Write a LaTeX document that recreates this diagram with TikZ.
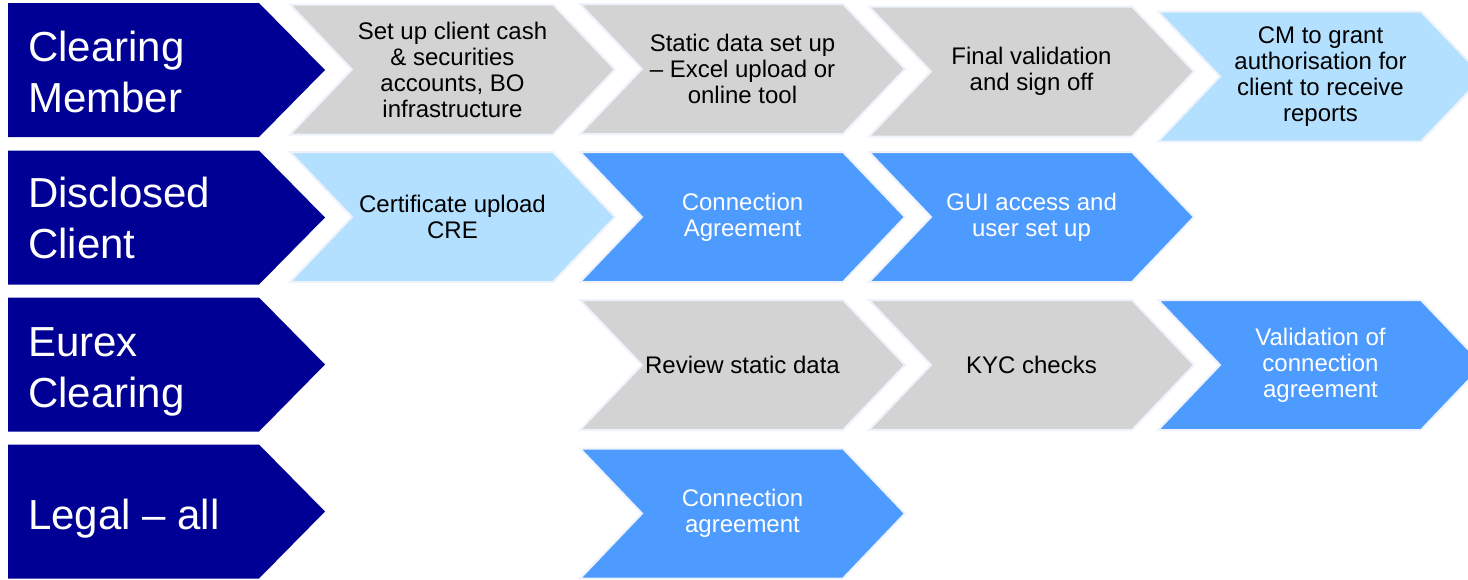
\documentclass[tikz,border=0pt]{standalone}
\usepackage{fontspec}
\setmainfont{Liberation Sans}
\definecolor{rolenavy}{HTML}{000094}
\definecolor{stepgrey}{HTML}{D3D3D3}
\definecolor{steplight}{HTML}{B3E0FF}
\definecolor{stepblue}{HTML}{4D9BFF}
\definecolor{stepglow}{HTML}{EEF3FB}

\begin{document}
\begin{tikzpicture}[x=1pt,y=-1pt,
rolelabel/.style={anchor=base west,inner sep=0pt,align=left,text=white,font=\fontsize{42}{50.5}\selectfont},
steptext/.style={inner sep=0pt,align=center,font=\fontsize{24}{26}\selectfont},
stepshape/.style={draw=stepglow,line width=2pt}]
\useasboundingbox (0,0) rectangle (1468,579);
\clip (0,0) rectangle (1468,579);
% role blocks down the left side (label anchored on its last baseline)
\foreach \m/\b/\name/\txt in {70/112/clearing/{Clearing\\Member},217.5/258/client/{Disclosed\\Client},
  364.5/407/eurex/{Eurex\\Clearing},511.5/529/legal/{Legal – all}}{
  \fill[rolenavy] (8,\m-67) -- (259,\m-67) -- (325,\m) -- (259,\m+67) -- (8,\m+67) -- cycle;
  \node[rolelabel] (\name) at (28,\b) {\txt};
}
% process steps
\foreach \L/\m/\col/\tc/\name/\txt in {
  290/69.5/stepgrey/black/accounts/{Set up client cash\\ \& securities\\ accounts, BO\\ infrastructure},
  580/69/stepgrey/black/staticdata/{Static data set up\\ – Excel upload or\\ online tool},
  869/71.5/stepgrey/black/signoff/{Final validation\\ and sign off},
  1158/76.5/steplight/black/authorise/{CM to grant\\ authorisation for\\ client to receive\\ reports},
  290/217/steplight/black/certificate/{Certificate upload\\ CRE},
  580/217/stepblue/white/agreement/{Connection\\ Agreement},
  869/217/stepblue/white/guiaccess/{GUI access and\\ user set up},
  580/365/stepgrey/black/review/{Review static data},
  869/365/stepgrey/black/kyc/{KYC checks},
  1158/365/stepblue/white/validation/{Validation of\\ connection\\ agreement},
  580/513.5/stepblue/white/legalagreement/{Connection\\ agreement}}{
  \filldraw[stepshape,fill=\col] (\L,\m-65) -- (\L+263,\m-65) -- (\L+325,\m)
    -- (\L+263,\m+65) -- (\L,\m+65) -- (\L+62,\m) -- cycle;
  \node[steptext,text=\tc] (\name) at (\L+162.5,\m) {\txt};
}
\end{tikzpicture}
\end{document}
